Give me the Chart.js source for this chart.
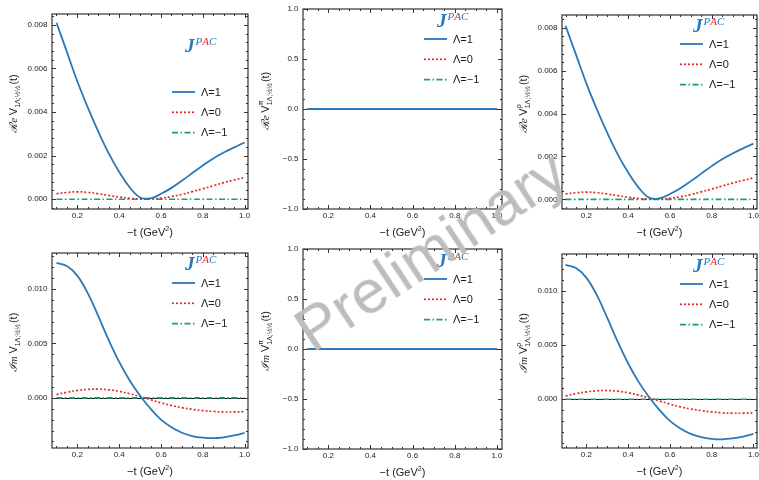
<!DOCTYPE html>
<html>
<head>
<meta charset="utf-8">
<script src="https://cdn.jsdelivr.net/npm/chart.js@4.4.1/dist/chart.umd.min.js"></script>
<style>
    html, body { margin: 0; padding: 0; background: #fff; }
    #page { position: relative; width: 759px; height: 480px; overflow: hidden; }
    .cell { position: absolute; width: 253px; height: 240px; }
    #watermark {
        position: absolute; left: 430px; top: 250px;
        transform: translate(-50%, -50%) rotate(-33.5deg);
        font: 62px "Liberation Sans", Arial, sans-serif;
        color: #bdbdbd; white-space: nowrap; pointer-events: none;
    }
</style>
</head>
<body>
<div id="page">
    <div class="cell" style="left:0;top:0"><canvas id="c0" width="253" height="240"></canvas></div>
    <div class="cell" style="left:253px;top:0"><canvas id="c1" width="253" height="240"></canvas></div>
    <div class="cell" style="left:506px;top:0"><canvas id="c2" width="253" height="240"></canvas></div>
    <div class="cell" style="left:0;top:240px"><canvas id="c3" width="253" height="240"></canvas></div>
    <div class="cell" style="left:253px;top:240px"><canvas id="c4" width="253" height="240"></canvas></div>
    <div class="cell" style="left:506px;top:240px"><canvas id="c5" width="253" height="240"></canvas></div>
    <div id="watermark">Preliminary</div>
</div>
<script>
// -t values (GeV^2)
const tValues = [0.10, 0.15, 0.20, 0.25, 0.30, 0.35, 0.40, 0.45, 0.50, 0.55, 0.60, 0.65, 0.70, 0.75, 0.80, 0.85, 0.90, 0.95, 1.00];

const lambdaLabels = ['\u039B=1', '\u039B=0', '\u039B=\u22121'];

// Re / Im of V (no superscript)
const reV_L1 = [0.0081, 0.00675, 0.0054, 0.0042, 0.0031, 0.0021, 0.00125, 0.00055, 0.00008, 0.00004, 0.00025, 0.00052, 0.00085, 0.0012, 0.00155, 0.00187, 0.00214, 0.00238, 0.0026];
const reV_L0 = [0.00025, 0.00031, 0.00034, 0.00031, 0.00025, 0.00017, 0.0001, 0.00004, 0.00001, 0.00001, 0.00005, 0.00012, 0.00022, 0.00035, 0.00048, 0.00062, 0.00076, 0.00088, 0.001];
const imV_L1 = [0.0124, 0.0121, 0.0112, 0.0096, 0.0075, 0.0053, 0.0033, 0.0016, 0.0002, -0.001, -0.002, -0.0027, -0.0032, -0.0035, -0.00365, -0.0037, -0.00362, -0.00345, -0.0032];
const imV_L0 = [0.0003, 0.00052, 0.00068, 0.00078, 0.0008, 0.00074, 0.0006, 0.00038, 0.00012, -0.00016, -0.00045, -0.0007, -0.0009, -0.00105, -0.00117, -0.00125, -0.00129, -0.00129, -0.00126];

// V^rho
const reVrho_L1 = [0.0081, 0.00675, 0.0054, 0.0042, 0.0031, 0.0021, 0.00125, 0.00055, 0.00008, 0.00004, 0.00025, 0.00052, 0.00085, 0.0012, 0.00155, 0.00187, 0.00214, 0.00238, 0.0026];
const reVrho_L0 = [0.00025, 0.00031, 0.00034, 0.00031, 0.00025, 0.00017, 0.0001, 0.00004, 0.00001, 0.00001, 0.00005, 0.00012, 0.00022, 0.00035, 0.00048, 0.00062, 0.00076, 0.00088, 0.001];
const imVrho_L1 = [0.0124, 0.0121, 0.0112, 0.0096, 0.0075, 0.0053, 0.0033, 0.0016, 0.0002, -0.001, -0.002, -0.0027, -0.0032, -0.0035, -0.00365, -0.0037, -0.00362, -0.00345, -0.0032];
const imVrho_L0 = [0.0003, 0.00052, 0.00068, 0.00078, 0.0008, 0.00074, 0.0006, 0.00038, 0.00012, -0.00016, -0.00045, -0.0007, -0.0009, -0.00105, -0.00117, -0.00125, -0.00129, -0.00129, -0.00126];

// Lambda=-1 everywhere, and all of V^pi
const zeroSeries = [0, 0, 0, 0, 0, 0, 0, 0, 0, 0, 0, 0, 0, 0, 0, 0, 0, 0, 0];

// tick values / labels
const xTicks = [0.2, 0.4, 0.6, 0.8, 1.0];
const xTickLabels = ['0.2', '0.4', '0.6', '0.8', '1.0'];
const yTicksRe = [0, 0.002, 0.004, 0.006, 0.008];
const yTickLabelsRe = ['0.000', '0.002', '0.004', '0.006', '0.008'];
const yTicksIm = [0, 0.005, 0.010];
const yTickLabelsIm = ['0.000', '0.005', '0.010'];
const yTicksPi = [-1, -0.5, 0, 0.5, 1];
const yTickLabelsPi = ['\u22121.0', '\u22120.5', '0.0', '0.5', '1.0'];

const BLUE = '#2a78b8';
const RED = '#e8282c';
const GREEN = '#17a078';
const INK = '#222';
const SANS = '"Liberation Sans", Arial, sans-serif';
const SERIF = '"Liberation Serif", "DejaVu Serif", serif';

const LINE_STYLES = [
    { color: BLUE, width: 1.8, dash: [] },
    { color: RED, width: 1.7, dash: [2, 2] },
    { color: GREEN, width: 1.6, dash: [6, 2.5, 1.5, 2.5] }
];

const PANELS = [
    { id: 'c0', cell: [0, 0], plot: [52, 14, 248, 209], xr: [0.0785, 1.016], yr: [-0.00045, 0.0085],
      yTicks: yTicksRe, yLabels: yTickLabelsRe, yMinor: 0.0004, part: '\u211Be', sup: '',
      series: [reV_L1, reV_L0, zeroSeries], zeroLine: false, titleX: 13, legend: [172, 92], logo: [185, 52] },
    { id: 'c1', cell: [253, 0], plot: [303, 9, 502, 209], xr: [0.08, 1.024], yr: [-1, 1],
      yTicks: yTicksPi, yLabels: yTickLabelsPi, yMinor: 0.1, part: '\u211Be', sup: '\u03C0',
      series: [zeroSeries, zeroSeries, zeroSeries], zeroLine: true, titleX: 265, legend: [424, 39], logo: [437, 27] },
    { id: 'c2', cell: [506, 0], plot: [562, 15, 757, 209], xr: [0.083, 1.017], yr: [-0.00045, 0.0086],
      yTicks: yTicksRe, yLabels: yTickLabelsRe, yMinor: 0.0004, part: '\u211Be', sup: '\u03C1',
      series: [reVrho_L1, reVrho_L0, zeroSeries], zeroLine: false, titleX: 523, legend: [680, 44], logo: [693, 32] },
    { id: 'c3', cell: [0, 240], plot: [52, 253, 248, 448], xr: [0.0785, 1.016], yr: [-0.0046, 0.0133],
      yTicks: yTicksIm, yLabels: yTickLabelsIm, yMinor: 0.001, part: '\u2110m', sup: '',
      series: [imV_L1, imV_L0, zeroSeries], zeroLine: true, titleX: 13, legend: [172, 283], logo: [185, 270] },
    { id: 'c4', cell: [253, 240], plot: [303, 249, 502, 449], xr: [0.08, 1.024], yr: [-1, 1],
      yTicks: yTicksPi, yLabels: yTickLabelsPi, yMinor: 0.1, part: '\u2110m', sup: '\u03C0',
      series: [zeroSeries, zeroSeries, zeroSeries], zeroLine: true, titleX: 265, legend: [424, 279], logo: [437, 267] },
    { id: 'c5', cell: [506, 240], plot: [562, 254, 757, 448], xr: [0.083, 1.017], yr: [-0.0045, 0.0134],
      yTicks: yTicksIm, yLabels: yTickLabelsIm, yMinor: 0.001, part: '\u2110m', sup: '\u03C1',
      series: [imVrho_L1, imVrho_L0, zeroSeries], zeroLine: true, titleX: 523, legend: [680, 284], logo: [693, 272] }
];

function minorValues(min, max, step) {
    const out = [];
    for (let k = Math.ceil(min / step - 1e-9); k * step <= max + 1e-12; k++) out.push(k * step);
    return out;
}

function drawYTitle(ctx, p, cx, cy) {
    ctx.save();
    ctx.translate(cx, cy);
    ctx.rotate(-Math.PI / 2);
    ctx.fillStyle = INK;
    ctx.textBaseline = 'alphabetic';
    const fPart = 'italic 11px ' + SERIF;
    const fMain = '11px ' + SANS;
    const fSmall = '7px ' + SANS;
    const sub = '1\u039B;\u00BD\u00BD';
    ctx.font = fPart; const w1 = ctx.measureText(p.part + ' ').width;
    ctx.font = fMain; const w2 = ctx.measureText('V').width;
    ctx.font = fSmall; const w3 = Math.max(ctx.measureText(sub).width, ctx.measureText(p.sup).width);
    ctx.font = fMain; const w4 = ctx.measureText('(t)').width;
    let x = -(w1 + w2 + w3 + 1 + w4) / 2;
    const base = 4;
    ctx.font = fPart; ctx.fillText(p.part + ' ', x, base); x += w1;
    ctx.font = fMain; ctx.fillText('V', x, base); x += w2;
    ctx.font = fSmall;
    ctx.fillText(sub, x, base + 3);
    if (p.sup) ctx.fillText(p.sup, x, base - 6);
    x += w3 + 1;
    ctx.font = fMain; ctx.fillText('(t)', x, base);
    ctx.restore();
}

function drawLogo(ctx, x, y) {
    ctx.save();
    ctx.textBaseline = 'alphabetic';
    ctx.font = 'bold italic 19px ' + SERIF;
    ctx.fillStyle = BLUE;
    ctx.fillText('J', x, y);
    let px = x + ctx.measureText('J').width + 1;
    ctx.font = 'italic 11px ' + SERIF;
    [['P', BLUE], ['A', RED], ['C', BLUE]].forEach(([ch, col]) => {
        ctx.fillStyle = col;
        ctx.fillText(ch, px, y - 7);
        px += ctx.measureText(ch).width;
    });
    ctx.restore();
}

const panelDeco = {
    id: 'panelDeco',
    beforeDatasetsDraw(chart, args, p) {
        if (!p.zeroLine) return;
        const { ctx, chartArea, scales } = chart;
        const y0 = Math.round(scales.y.getPixelForValue(0)) + 0.5;
        ctx.save();
        ctx.strokeStyle = '#111';
        ctx.lineWidth = 1;
        ctx.beginPath();
        ctx.moveTo(chartArea.left, y0);
        ctx.lineTo(chartArea.right, y0);
        ctx.stroke();
        ctx.restore();
    },
    afterDatasetsDraw(chart, args, p) {
        const { ctx, chartArea: a, scales } = chart;
        const xs = scales.x, ys = scales.y;
        ctx.save();
        ctx.strokeStyle = '#333';
        ctx.lineWidth = 1.2;
        ctx.strokeRect(a.left, a.top, a.right - a.left, a.bottom - a.top);

        // inward ticks on all four sides
        ctx.lineWidth = 1;
        ctx.beginPath();
        minorValues(xs.min, xs.max, 0.05).forEach(v => {
            const px = Math.round(xs.getPixelForValue(v)) + 0.5;
            const major = xTicks.some(t => Math.abs(t - v) < 1e-9);
            const len = major ? 4 : 2;
            ctx.moveTo(px, a.bottom); ctx.lineTo(px, a.bottom - len);
            ctx.moveTo(px, a.top); ctx.lineTo(px, a.top + len);
        });
        minorValues(ys.min, ys.max, p.yMinor).forEach(v => {
            const py = Math.round(ys.getPixelForValue(v)) + 0.5;
            const major = p.yTicks.some(t => Math.abs(t - v) < p.yMinor * 1e-3);
            const len = major ? 4 : 2;
            ctx.moveTo(a.left, py); ctx.lineTo(a.left + len, py);
            ctx.moveTo(a.right, py); ctx.lineTo(a.right - len, py);
        });
        ctx.stroke();

        // tick labels
        ctx.fillStyle = INK;
        ctx.font = '8px ' + SANS;
        ctx.textAlign = 'center';
        ctx.textBaseline = 'middle';
        xTicks.forEach((v, i) => ctx.fillText(xTickLabels[i], xs.getPixelForValue(v), a.bottom + 7));
        ctx.textAlign = 'right';
        p.yTicks.forEach((v, i) => ctx.fillText(p.yLabels[i], a.left - 4.5, ys.getPixelForValue(v)));

        // everything below in page coordinates
        ctx.translate(-p.cell[0], -p.cell[1]);
        const cx = (p.plot[0] + p.plot[2]) / 2;
        const cy = (p.plot[1] + p.plot[3]) / 2;

        // x title
        ctx.textAlign = 'left';
        ctx.textBaseline = 'alphabetic';
        ctx.font = '11px ' + SANS;
        const xt1 = '\u2212t (GeV', xt2 = ')';
        const w1 = ctx.measureText(xt1).width, w3 = ctx.measureText(xt2).width;
        ctx.font = '7px ' + SANS;
        const w2 = ctx.measureText('2').width;
        let tx = cx - (w1 + w2 + w3) / 2;
        const tb = p.plot[3] + 27;
        ctx.font = '11px ' + SANS; ctx.fillText(xt1, tx, tb); tx += w1;
        ctx.font = '7px ' + SANS; ctx.fillText('2', tx, tb - 5); tx += w2;
        ctx.font = '11px ' + SANS; ctx.fillText(xt2, tx, tb);

        drawYTitle(ctx, p, p.titleX, cy - 8);

        // legend
        chart.data.datasets.forEach((ds, i) => {
            const lx = p.legend[0], ly = p.legend[1] + i * 20.3;
            ctx.save();
            ctx.strokeStyle = ds.borderColor;
            ctx.lineWidth = ds.borderWidth;
            ctx.setLineDash(ds.borderDash);
            ctx.beginPath();
            ctx.moveTo(lx, ly); ctx.lineTo(lx + 23, ly);
            ctx.stroke();
            ctx.restore();
            ctx.fillStyle = INK;
            ctx.font = '11px ' + SANS;
            ctx.textBaseline = 'middle';
            ctx.fillText(ds.label, lx + 29, ly + 0.5);
        });

        drawLogo(ctx, p.logo[0], p.logo[1]);
        ctx.restore();
    }
};

document.addEventListener('DOMContentLoaded', () => {
    PANELS.forEach(p => {
        const pad = {
            left: p.plot[0] - p.cell[0],
            top: p.plot[1] - p.cell[1],
            right: p.cell[0] + 253 - p.plot[2],
            bottom: p.cell[1] + 240 - p.plot[3]
        };
        new Chart(document.getElementById(p.id), {
            type: 'line',
            data: {
                datasets: p.series.map((vals, i) => ({
                    label: lambdaLabels[i],
                    data: tValues.map((t, k) => ({ x: t, y: vals[k] })),
                    borderColor: LINE_STYLES[i].color,
                    borderWidth: LINE_STYLES[i].width,
                    borderDash: LINE_STYLES[i].dash,
                    pointRadius: 0,
                    tension: 0.4,
                    fill: false
                }))
            },
            options: {
                responsive: false,
                animation: false,
                layout: { padding: pad },
                scales: {
                    x: { type: 'linear', display: false, min: p.xr[0], max: p.xr[1] },
                    y: { type: 'linear', display: false, min: p.yr[0], max: p.yr[1] }
                },
                plugins: {
                    legend: { display: false },
                    tooltip: { enabled: false },
                    panelDeco: p
                }
            },
            plugins: [panelDeco]
        });
    });
});
</script>
</body>
</html>
